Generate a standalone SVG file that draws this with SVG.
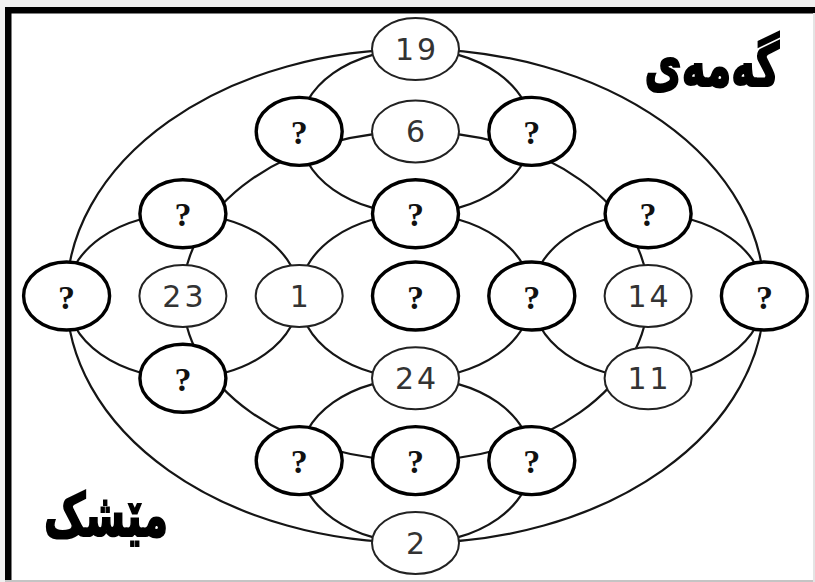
<svg xmlns="http://www.w3.org/2000/svg" width="815" height="582" viewBox="0 0 815 582">
<style>
.conn{fill:none;stroke:#151515;stroke-width:2.2}
.q ellipse{fill:#fff;stroke:#000;stroke-width:3.4}
.n ellipse{fill:#fff;stroke:#222;stroke-width:2}
.q text{font-family:'Liberation Serif','Times New Roman',serif;font-size:34px;font-weight:bold;fill:#111;text-anchor:middle}
.n text{font-family:'DejaVu Sans','Liberation Sans',sans-serif;font-size:30px;fill:#333;text-anchor:middle;letter-spacing:3px}
.title{font-family:'DejaVu Sans',sans-serif;font-weight:bold;fill:#000;stroke:#000;stroke-width:1.6;text-anchor:middle}
</style>
<rect x="0" y="0" width="815" height="582" fill="#f0f0f0"/>
<rect x="5" y="7" width="808" height="573" fill="#fff"/>
<rect x="5" y="7" width="810" height="6.5" fill="#000"/>
<rect x="5" y="7" width="6.5" height="575" fill="#000"/>
<rect x="5" y="580" width="810" height="2" fill="#c4c4c4"/>
<rect x="813" y="13" width="2" height="569" fill="#e4e4e4"/>
<g id="connectors" class="conn">
<ellipse cx="415.5" cy="296" rx="348.9" ry="246.9"/>
<ellipse cx="415.5" cy="296" rx="232.6" ry="164.6"/>
<ellipse cx="415.5" cy="131.4" rx="116.3" ry="82.3"/>
<ellipse cx="182.9" cy="296" rx="116.3" ry="82.3"/>
<ellipse cx="648.1" cy="296" rx="116.3" ry="82.3"/>
<ellipse cx="415.5" cy="296" rx="116.3" ry="82.3"/>
<ellipse cx="415.5" cy="460.6" rx="116.3" ry="82.3"/>
</g>
<g id="n19" class="n"><ellipse cx="415.5" cy="49.1" rx="43.5" ry="31"/><text x="417" y="60">19</text></g>
<g id="q-1-2" class="q"><ellipse cx="299.2" cy="131.4" rx="43" ry="34"/><text x="299.2" y="144">?</text></g>
<g id="n6" class="n"><ellipse cx="415.5" cy="131.4" rx="43.5" ry="31"/><text x="417" y="142">6</text></g>
<g id="q1-2" class="q"><ellipse cx="531.8" cy="131.4" rx="43" ry="34"/><text x="531.8" y="144">?</text></g>
<g id="q-2-1" class="q"><ellipse cx="182.9" cy="213.7" rx="43" ry="34"/><text x="182.9" y="226">?</text></g>
<g id="q0-1" class="q"><ellipse cx="415.5" cy="213.7" rx="43" ry="34"/><text x="415.5" y="226">?</text></g>
<g id="q2-1" class="q"><ellipse cx="648.1" cy="213.7" rx="43" ry="34"/><text x="648.1" y="226">?</text></g>
<g id="q-30" class="q"><ellipse cx="66.6" cy="296" rx="43" ry="34"/><text x="66.6" y="309">?</text></g>
<g id="n23" class="n"><ellipse cx="182.9" cy="296" rx="43.5" ry="31"/><text x="184.4" y="307">23</text></g>
<g id="n1" class="n"><ellipse cx="299.2" cy="296" rx="43.5" ry="31"/><text x="300.7" y="307">1</text></g>
<g id="q00" class="q"><ellipse cx="415.5" cy="296" rx="43" ry="34"/><text x="415.5" y="309">?</text></g>
<g id="q10" class="q"><ellipse cx="531.8" cy="296" rx="43" ry="34"/><text x="531.8" y="309">?</text></g>
<g id="n14" class="n"><ellipse cx="648.1" cy="296" rx="43.5" ry="31"/><text x="649.6" y="307">14</text></g>
<g id="q30" class="q"><ellipse cx="764.4" cy="296" rx="43" ry="34"/><text x="764.4" y="309">?</text></g>
<g id="q-21" class="q"><ellipse cx="182.9" cy="378.3" rx="43" ry="34"/><text x="182.9" y="391">?</text></g>
<g id="n24" class="n"><ellipse cx="415.5" cy="378.3" rx="43.5" ry="31"/><text x="417" y="389">24</text></g>
<g id="n11" class="n"><ellipse cx="648.1" cy="378.3" rx="43.5" ry="31"/><text x="649.6" y="389">11</text></g>
<g id="q-12" class="q"><ellipse cx="299.2" cy="460.6" rx="43" ry="34"/><text x="299.2" y="473">?</text></g>
<g id="q02" class="q"><ellipse cx="415.5" cy="460.6" rx="43" ry="34"/><text x="415.5" y="473">?</text></g>
<g id="q12" class="q"><ellipse cx="531.8" cy="460.6" rx="43" ry="34"/><text x="531.8" y="473">?</text></g>
<g id="n2" class="n"><ellipse cx="415.5" cy="542.9" rx="43.5" ry="31"/><text x="417" y="554">2</text></g>
<g id="title-top"><text class="title" transform="translate(712,86) scale(0.88,1.3)" font-size="46">گەمەی</text></g>
<g id="title-bottom"><text class="title" transform="translate(106,536) scale(0.88,1.3)" font-size="46">مێشک</text></g>
</svg>
